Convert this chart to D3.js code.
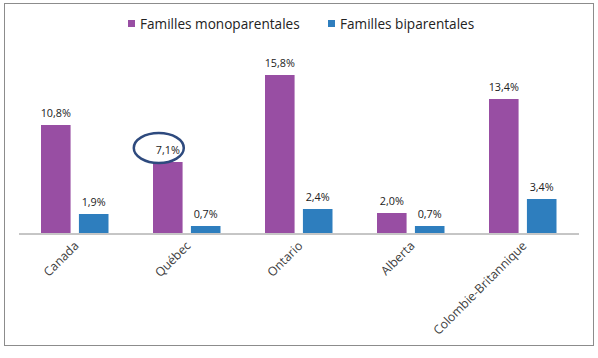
<!DOCTYPE html>
<html><head><meta charset="utf-8">
<script src="https://cdn.jsdelivr.net/npm/d3@7"></script>
<style>body{margin:0;background:#fff}svg{display:block}text{font-family:"Open Sans","Noto Sans",sans-serif}</style>
</head><body><svg id="c" width="598" height="358"></svg>
<script>
const categories = ["Canada","Québec","Ontario","Alberta","Colombie-Britannique"];
const seriesNames = ["Familles monoparentales","Familles biparentales"];
const mono = [10.8, 7.1, 15.8, 2.0, 13.4];
const bi = [1.9, 0.7, 2.4, 0.7, 3.4];
const labelsMono = ["10,8%","7,1%","15,8%","2,0%","13,4%"];
const labelsBi = ["1,9%","0,7%","2,4%","0,7%","3,4%"];
const colors = ["#984EA3","#2E7EBE"];

const svg = d3.select("#c");
svg.append("rect").attr("x",4.5).attr("y",3.5).attr("width",589).attr("height",342)
  .attr("fill","#fff").attr("stroke","#8c8c8c").attr("stroke-width",1);

const x0 = d3.scaleBand().domain(categories).range([18.5,578.5]).paddingInner(0).paddingOuter(0);
const x1 = d3.scaleBand().domain([0,1]).range([22.5,90]).paddingInner(0.22);
const y = d3.scaleLinear().domain([0,18]).range([233,53]);

const data = categories.map((c,i)=>({c, vals:[mono[i],bi[i]], labs:[labelsMono[i],labelsBi[i]]}));
const g = svg.append("g");
data.forEach(d=>{
  d.vals.forEach((v,j)=>{
    const xx = x0(d.c)+x1(j);
    g.append("rect").attr("x",xx).attr("y",y(v)).attr("width",x1.bandwidth()).attr("height",y(0)-y(v)).attr("fill",colors[j]);
    g.append("text").attr("x",xx+x1.bandwidth()/2).attr("y",y(v)-8).attr("text-anchor","middle")
      .attr("font-size",10.8).attr("fill","#222").text(d.labs[j]);
  });
});

// axis
const ax = svg.append("g").attr("transform","translate(0,233.5)")
  .call(d3.axisBottom(x0).tickSize(0).tickPadding(0));
ax.select(".domain").attr("stroke","#8c8c8c");
ax.selectAll("text").attr("font-size",12.3).attr("fill","#404040")
  .attr("text-anchor","end").attr("dy",0)
  .attr("transform","translate(5,13) rotate(-45)");

// ellipse highlight on Québec
const qx = x0("Québec")+x1(0)+x1.bandwidth()/2;
svg.append("ellipse").attr("cx",qx-9).attr("cy",y(mono[1])-14).attr("rx",25).attr("ry",15)
  .attr("fill","none").attr("stroke","#2E4A7E").attr("stroke-width",2.5);

// legend
const lg = svg.append("g");
const lx = [128,328];
seriesNames.forEach((n,i)=>{
  lg.append("rect").attr("x",lx[i]).attr("y",20).attr("width",7).attr("height",7).attr("fill",colors[i]);
  lg.append("text").attr("x",lx[i]+12).attr("y",29).attr("font-size",13.6).attr("fill","#222").text(n);
});
</script></body></html>
